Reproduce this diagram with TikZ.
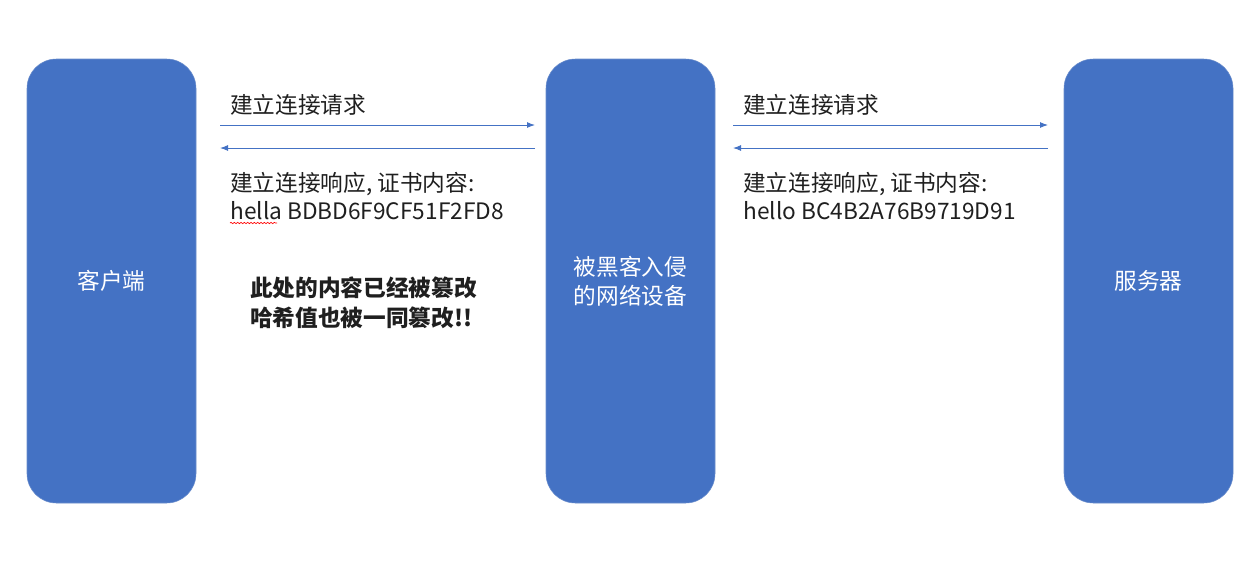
\documentclass[tikz,border=0pt]{standalone}
\usepackage{fontspec}
\setmainfont{Noto Sans CJK SC}
\usetikzlibrary{arrows.meta,decorations.pathmorphing}
\definecolor{boxblue}{HTML}{4472C4}
\definecolor{boxedge}{HTML}{6A8DCB}
\definecolor{txt}{HTML}{1F1F1F}
\tikzset{
 host/.style={draw=boxedge,fill=boxblue,rounded corners=22pt,minimum width=126.75pt,minimum height=333pt,text=white,align=center,font=\fontsize{17}{21.75}\selectfont},
 msg/.style={anchor=west,align=left,inner sep=0pt,text=txt,font=\fontsize{17}{21}\selectfont},
 flow/.style={draw=boxblue,line width=0.75pt,-{Latex[length=6pt,width=4.5pt]}}
}

\begin{document}
\begin{tikzpicture}[x=0.75pt,y=-0.75pt]
 \useasboundingbox (0,0) rectangle (1259,561);
  \draw (111.5,281) node[host] (kehuduan) {客户端};
  \draw (630.5,281) node[host] (heike) {被黑客入侵\\的网络设备};
  \draw (1148.5,281) node[host] (fuwuqi) {服务器};
  \draw (230,105) node[msg] (qingqiuA) {建立连接请求};
  \draw (230,196) node[msg] (xiangyingA) {建立连接响应, 证书内容:\\hella BDBD6F9CF51F2FD8};
  \draw (743,105) node[msg] (qingqiuB) {建立连接请求};
  \draw (743,196) node[msg] (xiangyingB) {建立连接响应, 证书内容:\\hello BC4B2A76B9719D91};
  \draw (250,303) node[msg,font=\fontsize{17}{22.5}\selectfont\bfseries] (cuangai) {此处的内容已经被篡改\\哈希值也被一同篡改!!};
  \coordinate (kR1) at (220,125);  \coordinate (hL1) at (535,125);
  \coordinate (kR2) at (220,148);  \coordinate (hL2) at (535,148);
  \coordinate (hR1) at (733,125);  \coordinate (fL1) at (1048,125);
  \coordinate (hR2) at (733,148);  \coordinate (fL2) at (1048,148);
     \path (kR1) edge[flow] (hL1);
     \path (hL2) edge[flow] (kR2);
     \path (hR1) edge[flow] (fL1);
     \path (fL2) edge[flow] (hR2);
  \draw[red,line width=0.5pt,decorate,decoration={snake,amplitude=0.5pt,segment length=2.5pt}] (230,223) -- (277,223);
\end{tikzpicture}
\end{document}
